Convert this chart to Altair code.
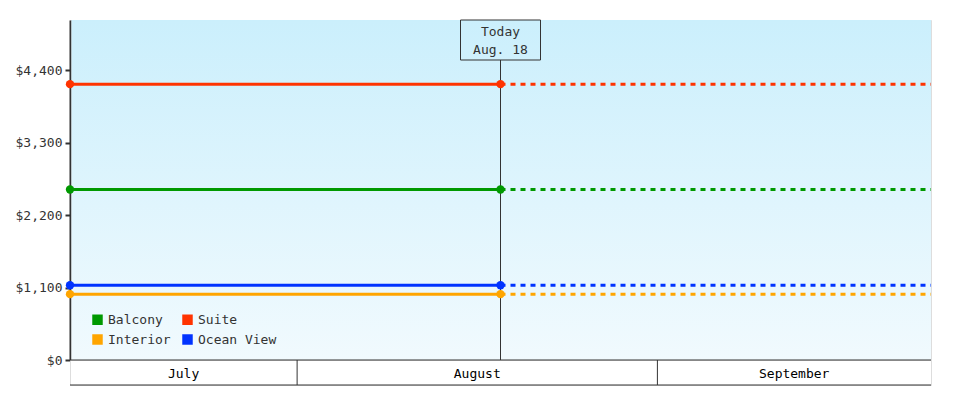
import altair as alt
import pandas as pd

# ---- data ----
rooms = ["Balcony", "Suite", "Interior", "Ocean View"]
prices = [2590, 4190, 1000, 1135]
colors = ["#009900", "#ff3300", "#ffa500", "#0033ff"]
legend_order = ["Balcony", "Interior", "Suite", "Ocean View"]
start_date = "2024-07-12T11:00:00"
today_date = "2024-08-18T12:00:00"
end_date = "2024-09-24T13:00:00"
today_label = "Today\nAug. 18"
month_names = ["July", "August", "September"]
month_starts = ["2024-07-01T00:00:00", "2024-08-01T00:00:00", "2024-09-01T00:00:00"]
month_ends = ["2024-08-01T00:00:00", "2024-09-01T00:00:00", "2024-10-01T00:00:00"]
y_ticks = [0, 1100, 2200, 3300, 4400]
y_max = 5164

W, H, BH = 861, 340, 25
FONT = "DejaVu Sans Mono"
DARK = "#333333"

t0, t1, t2 = pd.Timestamp(start_date), pd.Timestamp(today_date), pd.Timestamp(end_date)
color_of = dict(zip(rooms, colors))

rows = []
for r, p in zip(rooms, prices):
    rows.append({"room": r, "date": t0, "price": p, "seg": "past", "hex": color_of[r]})
    rows.append({"room": r, "date": t1, "price": p, "seg": "past", "hex": color_of[r]})
    rows.append({"room": r, "date": t1, "price": p, "seg": "future", "hex": color_of[r]})
    rows.append({"room": r, "date": t2, "price": p, "seg": "future", "hex": color_of[r]})
lines_df = pd.DataFrame(rows)
points_df = lines_df[lines_df["seg"] == "past"].copy()
today_df = pd.DataFrame({"date": [t1], "label": [today_label]})

ms = [max(pd.Timestamp(s), t0) for s in month_starts]
me = [min(pd.Timestamp(e), t2) for e in month_ends]
months_df = pd.DataFrame({
    "name": month_names,
    "s": ms,
    "e": me,
    "mid": [a + (b - a) / 2 for a, b in zip(ms, me)],
})
bounds_df = pd.DataFrame({"date": [pd.Timestamp(s) for s in month_starts[1:]]})
span_df = pd.DataFrame({"s": [t0], "e": [t2]})

xdom = alt.Scale(domain=[alt.DateTime(year=2024, month=7, date=12, hours=11),
                         alt.DateTime(year=2024, month=9, date=24, hours=13)])
X = alt.X("date:T", scale=xdom, axis=None)
Y = alt.Y("price:Q", scale=alt.Scale(domain=[0, y_max], nice=False, zero=True),
          axis=alt.Axis(values=y_ticks, format="$,d", title=None, grid=False,
                        domainColor=DARK, domainWidth=2, tickColor=DARK, tickWidth=2,
                        tickSize=5, labelFont=FONT, labelFontSize=13, labelColor=DARK,
                        labelPadding=3))

bg = alt.Chart(pd.DataFrame({"a": [0]})).mark_rect(
    fill={"gradient": "linear", "x1": 0, "x2": 0, "y1": 0, "y2": 1,
          "stops": [{"offset": 0, "color": "#cbeffc"}, {"offset": 1, "color": "#f1fafe"}]}
).encode(x=alt.value(1.5), x2=alt.value(W), y=alt.value(0), y2=alt.value(H))

solid = alt.Chart(lines_df).transform_filter(alt.datum.seg == "past").mark_line(
    strokeWidth=3).encode(x=X, y=Y, color=alt.Color("hex:N", scale=None), detail="room:N")
dashed = alt.Chart(lines_df).transform_filter(alt.datum.seg == "future").mark_line(
    strokeWidth=3, strokeDash=[5, 5]).encode(x=X, y=Y, color=alt.Color("hex:N", scale=None),
                                              detail="room:N")

rule = alt.Chart(today_df).mark_rule(color=DARK, strokeWidth=1).encode(
    x=X, y=alt.value(40), y2=alt.value(H))
box = alt.Chart(today_df).mark_point(
    shape="M-1,-0.5L1,-0.5L1,0.5L-1,0.5Z", size=6400, filled=False,
    stroke=DARK, strokeWidth=1, opacity=1).encode(x=X, y=alt.value(20))
label = alt.Chart(today_df).mark_text(
    lineBreak="\n", font=FONT, fontSize=13, color=DARK, baseline="middle",
    lineHeight=18, align="center").encode(x=X, y=alt.value(12), text="label:N")

pts = alt.Chart(points_df).mark_point(filled=True, size=70, opacity=1, shape="circle").encode(
    x=X, y=Y,
    color=alt.Color("room:N",
                    scale=alt.Scale(domain=legend_order,
                                    range=[color_of[r] for r in legend_order]),
                    legend=alt.Legend(title=None, orient="none", legendX=21, legendY=293,
                                      columns=2, symbolType="square", symbolSize=110,
                                      symbolStrokeWidth=0, labelFont=FONT, labelFontSize=13,
                                      labelColor=DARK, columnPadding=10, rowPadding=6,
                                      labelOffset=4)))

main = alt.layer(bg, solid, dashed, rule, box, label, pts).properties(width=W, height=H)

XB = lambda f: alt.X(f, scale=xdom, axis=None)
band_bounds = alt.Chart(bounds_df).mark_rule(color=DARK, strokeWidth=1).encode(
    x=XB("date:T"), y=alt.value(0), y2=alt.value(BH))
band_top = alt.Chart(span_df).mark_rule(color=DARK, strokeWidth=1).encode(
    x=XB("s:T"), x2="e:T", y=alt.value(0))
band_bot = alt.Chart(span_df).mark_rule(color=DARK, strokeWidth=1).encode(
    x=XB("s:T"), x2="e:T", y=alt.value(BH))
band_txt = alt.Chart(months_df).mark_text(font=FONT, fontSize=13, color="#000000",
                                          baseline="middle").encode(
    x=XB("mid:T"), y=alt.value(BH / 2 + 1), text="name:N")
band = alt.layer(band_bounds, band_top, band_bot, band_txt).properties(width=W, height=BH)

chart = alt.vconcat(main, band, spacing=0, bounds="flush").properties(
    padding={"left": 6, "top": 9, "right": 5, "bottom": 5}
).configure_view(stroke=None).configure(background="white")

chart.save("out.html", embed_options={"renderer": "svg", "actions": False})
